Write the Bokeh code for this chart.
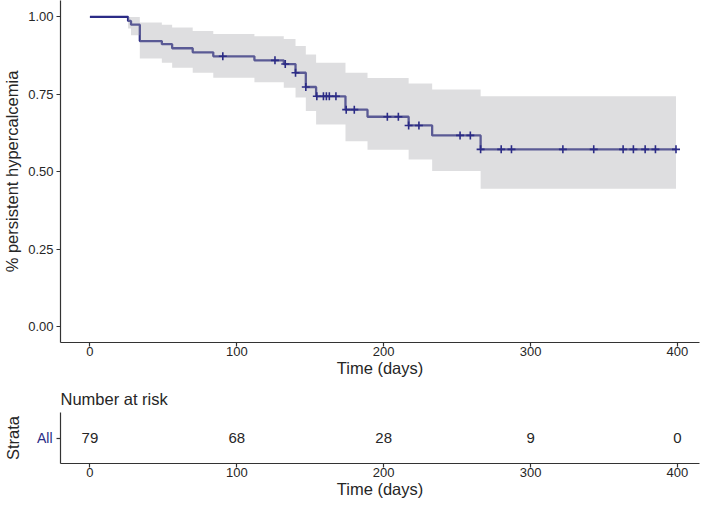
import numpy as np
from bokeh.plotting import figure
from bokeh.layouts import column
from bokeh.models import Range1d, FactorRange, FixedTicker, PrintfTickFormatter
from bokeh.core.properties import value
from bokeh.embed import file_html
from bokeh.resources import INLINE

# ---- data ----
event_times = [0, 26, 28, 34, 49, 56, 70, 84, 112, 132, 140, 147, 154, 174, 189, 217, 233, 266]
surv = [1.0, 0.987, 0.975, 0.922, 0.912, 0.899, 0.886, 0.873, 0.860, 0.848, 0.820,
        0.774, 0.744, 0.701, 0.678, 0.650, 0.618, 0.573]
upper = [1.0, 1.0, 1.0, 0.982, 0.975, 0.966, 0.955, 0.945, 0.938, 0.929, 0.906,
         0.879, 0.852, 0.820, 0.803, 0.785, 0.766, 0.744]
lower = [1.0, 0.963, 0.941, 0.866, 0.852, 0.836, 0.820, 0.804, 0.789, 0.772, 0.740,
         0.697, 0.653, 0.599, 0.572, 0.540, 0.503, 0.446]
end_time = 399
censor_times = [90.5, 126, 133, 140, 147, 154.5, 159, 161, 163, 167.5, 174.5, 180,
                202.5, 210, 217, 224, 252, 259, 266, 280, 287, 322, 343, 363, 370,
                378, 385, 399]
risk_times = [0, 100, 200, 300, 400]
risk_counts = [79, 68, 28, 9, 0]
x_ticks = [0, 100, 200, 300, 400]
y_ticks = [0.0, 0.25, 0.5, 0.75, 1.0]
strata = ["All"]

NAVY = "#2B2B86"
FONT = "Liberation Sans"
TXT = "#262626"

# step coordinates for ribbon
bx, blo, bhi = [], [], []
tt = event_times + [end_time]
for i in range(len(event_times)):
    bx += [tt[i], tt[i + 1]]
    blo += [lower[i], lower[i]]
    bhi += [upper[i], upper[i]]

idx = np.searchsorted(np.array(event_times), np.array(censor_times), side="right") - 1
censor_y = [surv[i] for i in idx]


def style_axes(p):
    for ax in [p.xaxis[0], p.yaxis[0]]:
        ax.axis_line_color = "#333333"
        ax.axis_line_width = 1.2
        ax.major_tick_line_color = "#333333"
        ax.major_tick_line_width = 1.2
        ax.major_tick_out = 4
        ax.major_tick_in = 0
        ax.minor_tick_line_color = None
        ax.major_label_text_font = FONT
        ax.major_label_text_font_size = "13px"
        ax.major_label_text_color = TXT
        ax.axis_label_text_font = FONT
        ax.axis_label_text_font_size = "16.5px"
        ax.axis_label_text_font_style = "normal"
        ax.axis_label_text_color = TXT
    p.xaxis.major_label_standoff = 0
    p.xaxis.axis_label_standoff = 0
    p.yaxis.major_label_standoff = 3
    p.yaxis.axis_label_standoff = 4
    p.grid.visible = False
    p.outline_line_color = None


XR = (-20, 415)

p1 = figure(width=700, height=379, x_range=Range1d(*XR), y_range=Range1d(-0.05, 1.053),
            output_backend="svg", toolbar_location=None,
            min_border_left=60, min_border_right=1, min_border_top=0, min_border_bottom=37)
p1.step(tt, surv + [surv[-1]], mode="after", line_color=NAVY, line_width=2.3)
p1.varea(x=bx, y1=blo, y2=bhi, fill_color="#A9A8AE", fill_alpha=0.38)
p1.scatter(censor_times, censor_y, marker="cross", size=8, line_color=NAVY, line_width=1.6)
p1.xaxis.ticker = FixedTicker(ticks=x_ticks)
p1.yaxis.ticker = FixedTicker(ticks=y_ticks)
p1.yaxis.formatter = PrintfTickFormatter(format="%.2f")
p1.xaxis.axis_label = "Time (days)"
p1.yaxis.axis_label = "% persistent hypercalcemia"
style_axes(p1)

p2 = figure(width=700, height=121, x_range=Range1d(*XR), y_range=FactorRange(factors=strata),
            output_backend="svg", toolbar_location=None,
            min_border_left=60, min_border_right=1, min_border_top=33, min_border_bottom=36)
p2.text(x=risk_times, y=strata * len(risk_times), text=[str(c) for c in risk_counts],
        text_align="center", text_baseline="middle", text_font=value(FONT),
        text_font_size="15px", text_color=TXT)
p2.xaxis.ticker = FixedTicker(ticks=x_ticks)
p2.xaxis.axis_label = "Time (days)"
p2.yaxis.axis_label = "Strata"
style_axes(p2)
p2.yaxis.major_label_text_color = NAVY
p2.yaxis.major_label_text_font_size = "14px"
p2.yaxis.major_label_standoff = 4
p2.yaxis.axis_label_standoff = 12
p2.title.text = "Number at risk"
p2.title.text_font = FONT
p2.title.text_font_size = "16.5px"
p2.title.text_font_style = "normal"
p2.title.text_color = TXT
p2.title.align = "left"

layout = column(p1, p2, spacing=0)
open("out.html", "w").write(file_html(layout, INLINE))
